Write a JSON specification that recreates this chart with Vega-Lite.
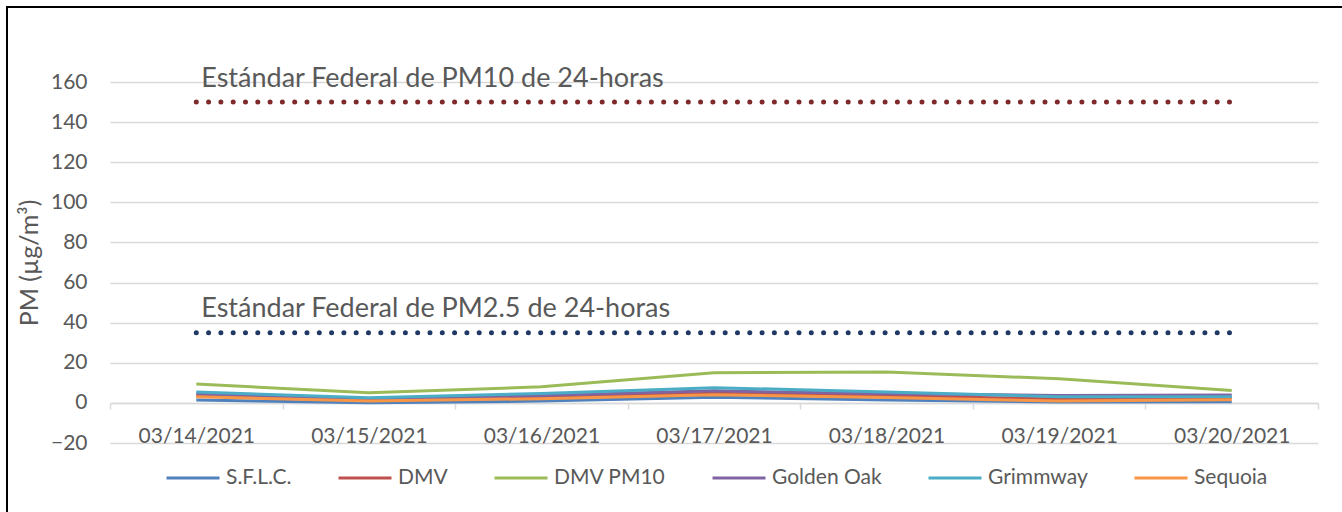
{
  "$schema": "https://vega.github.io/schema/vega-lite/v6.json",
  "width": 1400,
  "height": 560,
  "autosize": {"type": "none"},
  "padding": {"left": 7, "top": 7, "right": 0, "bottom": 0},
  "background": "white",
  "config": {
    "font": "Lato",
    "view": {"stroke": "#000000", "strokeWidth": 2},
    "axis": {"labelFont": "Lato", "titleFont": "Lato", "labelColor": "#595959", "titleColor": "#595959", "labelFontSize": 21}
  },
  "datasets": {
    "series": [
      {"date": "03/14/2021", "site": "S.F.L.C.", "pm": 1.4},
      {"date": "03/15/2021", "site": "S.F.L.C.", "pm": 0.1},
      {"date": "03/16/2021", "site": "S.F.L.C.", "pm": 0.9},
      {"date": "03/17/2021", "site": "S.F.L.C.", "pm": 2.8},
      {"date": "03/18/2021", "site": "S.F.L.C.", "pm": 1.4},
      {"date": "03/19/2021", "site": "S.F.L.C.", "pm": 0.4},
      {"date": "03/20/2021", "site": "S.F.L.C.", "pm": 0.6},
      {"date": "03/14/2021", "site": "DMV", "pm": 3.6},
      {"date": "03/15/2021", "site": "DMV", "pm": 1.5},
      {"date": "03/16/2021", "site": "DMV", "pm": 2.8},
      {"date": "03/17/2021", "site": "DMV", "pm": 4.8},
      {"date": "03/18/2021", "site": "DMV", "pm": 3.5},
      {"date": "03/19/2021", "site": "DMV", "pm": 2.0},
      {"date": "03/20/2021", "site": "DMV", "pm": 2.5},
      {"date": "03/14/2021", "site": "DMV PM10", "pm": 9.4},
      {"date": "03/15/2021", "site": "DMV PM10", "pm": 5.1},
      {"date": "03/16/2021", "site": "DMV PM10", "pm": 8.0},
      {"date": "03/17/2021", "site": "DMV PM10", "pm": 15.0},
      {"date": "03/18/2021", "site": "DMV PM10", "pm": 15.4},
      {"date": "03/19/2021", "site": "DMV PM10", "pm": 12.0},
      {"date": "03/20/2021", "site": "DMV PM10", "pm": 6.2},
      {"date": "03/14/2021", "site": "Golden Oak", "pm": 4.6},
      {"date": "03/15/2021", "site": "Golden Oak", "pm": 2.0},
      {"date": "03/16/2021", "site": "Golden Oak", "pm": 3.7},
      {"date": "03/17/2021", "site": "Golden Oak", "pm": 6.0},
      {"date": "03/18/2021", "site": "Golden Oak", "pm": 4.6},
      {"date": "03/19/2021", "site": "Golden Oak", "pm": 3.7},
      {"date": "03/20/2021", "site": "Golden Oak", "pm": 3.9},
      {"date": "03/14/2021", "site": "Grimmway", "pm": 5.4},
      {"date": "03/15/2021", "site": "Grimmway", "pm": 2.6},
      {"date": "03/16/2021", "site": "Grimmway", "pm": 4.7},
      {"date": "03/17/2021", "site": "Grimmway", "pm": 7.6},
      {"date": "03/18/2021", "site": "Grimmway", "pm": 5.4},
      {"date": "03/19/2021", "site": "Grimmway", "pm": 3.1},
      {"date": "03/20/2021", "site": "Grimmway", "pm": 3.1},
      {"date": "03/14/2021", "site": "Sequoia", "pm": 3.1},
      {"date": "03/15/2021", "site": "Sequoia", "pm": 0.9},
      {"date": "03/16/2021", "site": "Sequoia", "pm": 2.1},
      {"date": "03/17/2021", "site": "Sequoia", "pm": 4.1},
      {"date": "03/18/2021", "site": "Sequoia", "pm": 2.7},
      {"date": "03/19/2021", "site": "Sequoia", "pm": 0.9},
      {"date": "03/20/2021", "site": "Sequoia", "pm": 1.6}
    ],
    "standards": [
      {"date": "03/14/2021", "standard": "PM10", "pm": 150},
      {"date": "03/15/2021", "standard": "PM10", "pm": 150},
      {"date": "03/16/2021", "standard": "PM10", "pm": 150},
      {"date": "03/17/2021", "standard": "PM10", "pm": 150},
      {"date": "03/18/2021", "standard": "PM10", "pm": 150},
      {"date": "03/19/2021", "standard": "PM10", "pm": 150},
      {"date": "03/20/2021", "standard": "PM10", "pm": 150},
      {"date": "03/14/2021", "standard": "PM2.5", "pm": 35},
      {"date": "03/15/2021", "standard": "PM2.5", "pm": 35},
      {"date": "03/16/2021", "standard": "PM2.5", "pm": 35},
      {"date": "03/17/2021", "standard": "PM2.5", "pm": 35},
      {"date": "03/18/2021", "standard": "PM2.5", "pm": 35},
      {"date": "03/19/2021", "standard": "PM2.5", "pm": 35},
      {"date": "03/20/2021", "standard": "PM2.5", "pm": 35}
    ],
    "labels": [
      {"date": "03/14/2021", "label": "Estándar Federal de PM10 de 24-horas", "pm": 161.5},
      {"date": "03/14/2021", "label": "Estándar Federal de PM2.5 de 24-horas", "pm": 47}
    ]
  },
  "encoding": {
    "x": {
      "field": "date",
      "type": "ordinal",
      "scale": {
        "type": "band",
        "domain": ["03/14/2021", "03/15/2021", "03/16/2021", "03/17/2021", "03/18/2021", "03/19/2021", "03/20/2021"],
        "range": [103, 1311],
        "paddingInner": 0,
        "paddingOuter": 0
      },
      "axis": {
        "title": null,
        "labelAngle": 0,
        "offset": -164,
        "tickBand": "extent",
        "ticks": true,
        "tickSize": 6,
        "tickColor": "#D9D9D9",
        "tickWidth": 1.5,
        "domain": true,
        "domainColor": "#D9D9D9",
        "domainWidth": 1.5,
        "grid": false,
        "labelPadding": 16,
        "labelFontSize": 21
      }
    },
    "y": {
      "field": "pm",
      "type": "quantitative",
      "scale": {"domain": [-20, 160], "range": [436, 75], "nice": false, "zero": false},
      "axis": {
        "title": "PM (µg/m³)",
        "titleFontSize": 25,
        "titleFontWeight": "normal",
        "titlePadding": 8,
        "offset": -103,
        "values": [-20, 0, 20, 40, 60, 80, 100, 120, 140, 160],
        "domain": false,
        "ticks": false,
        "tickSize": 0,
        "labelPadding": 23,
        "grid": true,
        "gridColor": "#D9D9D9",
        "gridWidth": 1.3,
        "labelFontSize": 21
      }
    }
  },
  "layer": [
    {
      "data": {"name": "standards"},
      "transform": [{"filter": "datum.standard === 'PM10'"}],
      "mark": {"type": "line", "color": "#7F2A2A", "strokeWidth": 5, "strokeCap": "round", "strokeDash": [0, 12.3]}
    },
    {
      "data": {"name": "standards"},
      "transform": [{"filter": "datum.standard === 'PM2.5'"}],
      "mark": {"type": "line", "color": "#203864", "strokeWidth": 5, "strokeCap": "round", "strokeDash": [0, 12.3]}
    },
    {
      "data": {"name": "series"},
      "mark": {"type": "line", "strokeWidth": 3},
      "encoding": {
        "color": {
          "field": "site",
          "type": "nominal",
          "scale": {
            "domain": ["S.F.L.C.", "DMV", "DMV PM10", "Golden Oak", "Grimmway", "Sequoia"],
            "range": ["#4F81BD", "#C0504D", "#9BBB59", "#8064A2", "#4BACC6", "#F79646"]
          },
          "legend": {
            "title": null,
            "orient": "none",
            "direction": "horizontal",
            "legendX": 158,
            "legendY": 443,
            "padding": 0,
            "symbolType": "stroke",
            "symbolSize": 2809,
            "symbolStrokeWidth": 3,
            "labelFont": "Lato",
            "labelFontSize": 21,
            "labelColor": "#595959",
            "labelOffset": 5,
            "columnPadding": 40
          }
        }
      }
    },
    {
      "data": {"name": "labels"},
      "mark": {"type": "text", "align": "left", "baseline": "middle", "dx": 5, "fontSize": 27, "font": "Lato", "color": "#595959"},
      "encoding": {"text": {"field": "label", "type": "nominal"}}
    }
  ]
}
